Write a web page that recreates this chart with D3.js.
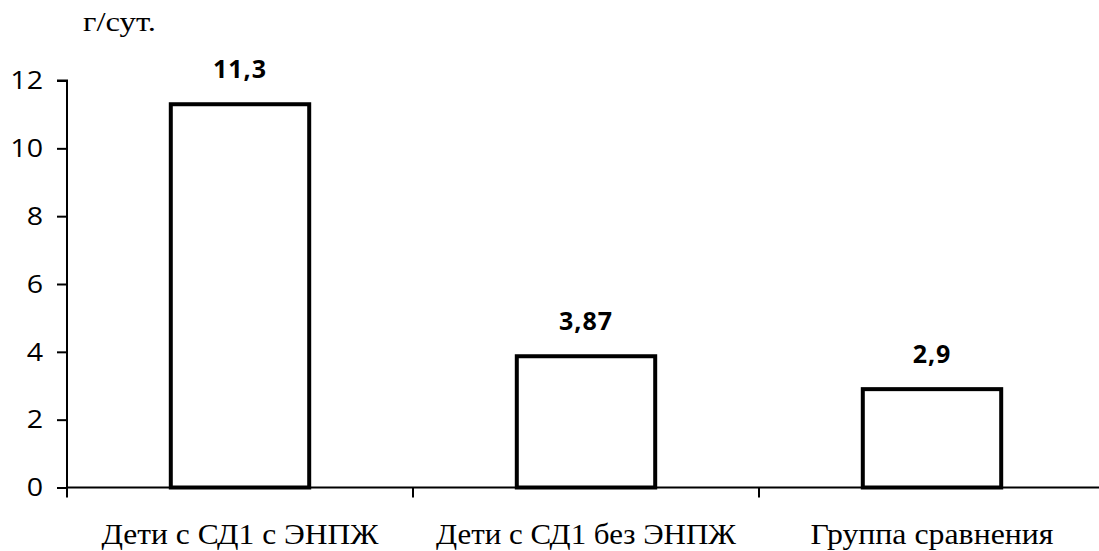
<!DOCTYPE html>
<html>
<head>
<meta charset="utf-8">
<script src="https://cdn.jsdelivr.net/npm/d3@7"></script>
<style>
  html, body { margin: 0; padding: 0; background: #fff; }
  svg { display: block; }
</style>
</head>
<body>
<svg id="chart" width="1099" height="551"></svg>
<script>
// Daily values (g/day) per group
const categories = ["Дети с СД1 с ЭНПЖ", "Дети с СД1 без ЭНПЖ", "Группа сравнения"];
const values = [11.3, 3.87, 2.9];
const valueLabels = ["11,3", "3,87", "2,9"];
const yTicks = [0, 2, 4, 6, 8, 10, 12];
const unitLabel = "г/сут.";

const SERIF = "'Liberation Serif', 'Times New Roman', serif";
const SANS = "'Open Sans', sans-serif";

const W = 1099, H = 551;
const x0 = 67, x1 = 1105;      // category axis span
const yBase = 487.5, yTop = 80.5;
const catWidths = [277, 300, 243]; // rendered widths of the category captions

const svg = d3.select("#chart");

const y = d3.scaleLinear().domain([0, 12]).range([yBase, yTop]);

// Category bands (tick boundaries) and bars inside them
const xCat = d3.scaleBand().domain(categories).range([x0, x1]).padding(0);
const xBar = d3.scaleBand().domain(categories).range([x0, x1])
  .paddingInner(0.6).paddingOuter(0.3);

// Y axis
const yAxis = d3.axisLeft(y).tickValues(yTicks).tickSize(10).tickPadding(14)
  .tickFormat(d3.format("d"));
const gy = svg.append("g").attr("transform", `translate(${x0},0)`).call(yAxis);
gy.attr("font-family", SANS).attr("font-size", 26);
gy.select(".domain").attr("stroke", "#000").attr("stroke-width", 2)
  .attr("d", `M-10,${yTop}H0V${yBase}`);
gy.selectAll(".tick line").attr("stroke", "#000").attr("stroke-width", 2);
gy.selectAll(".tick text")
  .attr("fill", "#000")
  .attr("x", 0)
  .attr("transform", "translate(-24,0) scale(1.1,1)");

// X axis line and boundary ticks
svg.append("line")
  .attr("x1", x0).attr("x2", W)
  .attr("y1", yBase).attr("y2", yBase)
  .attr("stroke", "#000").attr("stroke-width", 2);
svg.selectAll(".xtick").data(categories).join("line")
  .attr("class", "xtick")
  .attr("x1", d => xCat(d)).attr("x2", d => xCat(d))
  .attr("y1", yBase).attr("y2", yBase + 10)
  .attr("stroke", "#000").attr("stroke-width", 2);

// Bars
svg.selectAll(".bar").data(categories).join("rect")
  .attr("class", "bar")
  .attr("x", d => xBar(d))
  .attr("width", xBar.bandwidth())
  .attr("y", (d, i) => y(values[i]))
  .attr("height", (d, i) => yBase - y(values[i]))
  .attr("fill", "#fff")
  .attr("stroke", "#000")
  .attr("stroke-width", 4);

// Value labels
svg.selectAll(".val").data(categories).join("text")
  .attr("class", "val")
  .attr("x", d => xBar(d) + xBar.bandwidth() / 2)
  .attr("y", (d, i) => y(values[i]) - 26)
  .attr("text-anchor", "middle")
  .attr("font-family", SANS)
  .attr("font-weight", "bold")
  .attr("font-size", 25)
  .attr("letter-spacing", 1)
  .text((d, i) => valueLabels[i]);

// Category captions
svg.selectAll(".cat").data(categories).join("text")
  .attr("class", "cat")
  .attr("x", d => xCat(d) + xCat.bandwidth() / 2)
  .attr("y", 543.5)
  .attr("text-anchor", "middle")
  .attr("font-family", SERIF)
  .attr("font-size", 28.5)
  .attr("textLength", (d, i) => catWidths[i])
  .attr("lengthAdjust", "spacingAndGlyphs")
  .text(d => d);

// Unit caption
svg.append("text")
  .attr("x", 83)
  .attr("y", 31)
  .attr("font-family", SERIF)
  .attr("font-size", 27)
  .attr("textLength", 73)
  .attr("lengthAdjust", "spacingAndGlyphs")
  .text(unitLabel);
</script>
</body>
</html>
